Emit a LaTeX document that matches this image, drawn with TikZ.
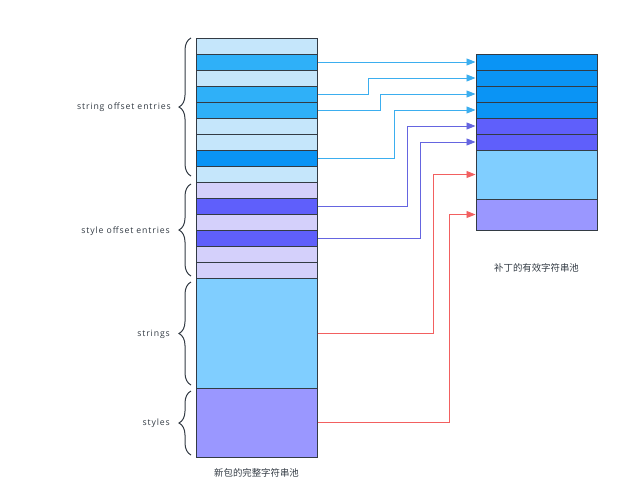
\documentclass[tikz,border=0pt]{standalone}
\usepackage{fontspec}
\setmainfont{Open Sans}
\newfontfamily\labelfont[LetterSpace=10]{Open Sans}
\newfontfamily\cjk{Noto Sans CJK SC}
\usepackage{tikz}
\usetikzlibrary{arrows.meta}
\usetikzlibrary{decorations.pathreplacing}

\definecolor{lightblue}{HTML}{C5E6FB}
\definecolor{midblue}{HTML}{2FB0F8}
\definecolor{darkblue}{HTML}{0A94F5}
\definecolor{lavender}{HTML}{D4D0FB}
\definecolor{violet}{HTML}{5F5FFB}
\definecolor{strblue}{HTML}{80CEFF}
\definecolor{stypurple}{HTML}{9A97FF}
\definecolor{linegray}{HTML}{333B44}
\definecolor{bluearrow}{HTML}{3BAEEF}
\definecolor{purplearrow}{HTML}{6565E0}
\definecolor{redarrow}{HTML}{F26060}

\begin{document}
\begin{tikzpicture}[x=1pt,y=-1pt,
    entry/.style={draw=linegray,line width=1pt,minimum width=121pt,minimum height=16pt,inner sep=0pt},
    block/.style={draw=linegray,line width=1pt,minimum width=121pt,inner sep=0pt},
    link/.style={line width=0.9pt,-{Triangle[length=9pt,width=7pt]}},
    curly/.style={decorate,decoration={brace,amplitude=12pt},draw=linegray,line width=1pt},
    label/.style={font=\labelfont\fontsize{8.7}{10}\selectfont,text=linegray,anchor=east,inner sep=0pt}]

        \useasboundingbox (0,0) rectangle (618,490);

        % full pool of the new package
        \node[entry,fill=lightblue]   (l1)  at (256.5, 46)   {};
        \node[entry,fill=midblue]     (l2)  at (256.5, 62)   {};
        \node[entry,fill=lightblue]   (l3)  at (256.5, 78)   {};
        \node[entry,fill=midblue]     (l4)  at (256.5, 94)   {};
        \node[entry,fill=midblue]     (l5)  at (256.5, 110)  {};
        \node[entry,fill=lightblue]   (l6)  at (256.5, 126)  {};
        \node[entry,fill=lightblue]   (l7)  at (256.5, 142)  {};
        \node[entry,fill=darkblue]    (l8)  at (256.5, 158)  {};
        \node[entry,fill=lightblue]   (l9)  at (256.5, 174)  {};
        \node[entry,fill=lavender]    (l10) at (256.5, 190)  {};
        \node[entry,fill=violet]      (l11) at (256.5, 206)  {};
        \node[entry,fill=lavender]    (l12) at (256.5, 222)  {};
        \node[entry,fill=violet]      (l13) at (256.5, 238)  {};
        \node[entry,fill=lavender]    (l14) at (256.5, 254)  {};
        \node[entry,fill=lavender]    (l15) at (256.5, 270)  {};
        \node[block,fill=strblue,minimum height=110pt]  (lstr) at (256.5, 333)   {};
        \node[block,fill=stypurple,minimum height=69pt] (lsty) at (256.5, 422.5) {};

        % valid pool of the patch
        \node[entry,fill=darkblue]    (r1)  at (536.5, 62)   {};
        \node[entry,fill=darkblue]    (r2)  at (536.5, 78)   {};
        \node[entry,fill=darkblue]    (r3)  at (536.5, 94)   {};
        \node[entry,fill=darkblue]    (r4)  at (536.5, 110)  {};
        \node[entry,fill=violet]      (r5)  at (536.5, 126)  {};
        \node[entry,fill=violet]      (r6)  at (536.5, 142)  {};
        \node[block,fill=strblue,minimum height=49pt]   (rstr) at (536.5, 174.5) {};
        \node[block,fill=stypurple,minimum height=31pt] (rsty) at (536.5, 214.5) {};

        \node[font=\cjk\fontsize{9.4}{11}\selectfont,text=linegray] (lname) at (256.5, 473) {新包的完整字符串池};
        \node[font=\cjk\fontsize{9.4}{11}\selectfont,text=linegray] (rname) at (536.5, 268) {补丁的有效字符串池};

        % braces
        \draw[curly] (191, 176) -- (191, 38);
        \draw[curly] (191, 276) -- (191, 184);
        \draw[curly] (191, 385) -- (191, 282);
        \draw[curly] (191, 455) -- (191, 391);
        \node[label] (bstroff) at (171, 107)   {string offset entries};
        \node[label] (bstyoff) at (170, 231)   {style offset entries};
        \node[label] (bstr)    at (170, 334) {strings};
        \node[label] (bsty)    at (170, 423)   {styles};

        % links
        \draw[link,bluearrow]   (l2.east) -- (r1.west);
        \draw[link,bluearrow]   (l4.east) -- ++(51,0) |- (r2.west);
        \draw[link,bluearrow]   (l5.east) -- ++(63,0) |- (r3.west);
        \draw[link,bluearrow]   (l8.east) -- ++(77,0) |- (r4.west);
        \draw[link,purplearrow] (l11.east) -- ++(90,0) |- (r5.west);
        \draw[link,purplearrow] (l13.east) -- ++(103,0) |- (r6.west);
        \draw[link,redarrow]    (lstr.east) -- ++(116,0) |- (rstr.west);
        \draw[link,redarrow]    (lsty.east) -- ++(132,0) |- (rsty.west);
      \end{tikzpicture}
\end{document}
